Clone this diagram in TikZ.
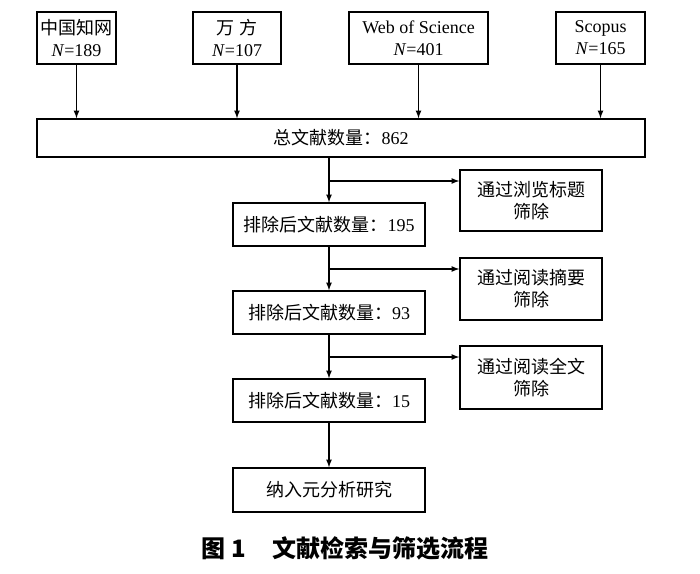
\documentclass[tikz,border=0pt]{standalone}
\usepackage{fontspec}
\setmainfont{Liberation Serif}
\newfontfamily\cjk{Noto Sans CJK SC}
\usetikzlibrary{positioning,arrows}
\tikzstyle{box} = [draw, line width=1.5pt, inner sep=0pt, align=center, font=\fontsize{18}{22}\selectfont]
\tikzstyle{arr} = [-latex, line width=1.6pt]
\tikzstyle{branch} = [coordinate]

\begin{document}
\begin{tikzpicture}[x=1pt,y=-1pt]
				%\draw[help lines,step=50] (0,0) grid (700,573);
				\useasboundingbox (0,0) rectangle (700,573);
				\node [box, minimum width=79, minimum height=52] (cnki) at (76.5,38) {{\cjk 中国知网}\\\textit{N}=189};
				\node [box, minimum width=88, minimum height=52] (wanfang) at (237,38) {{\cjk 万\ 方}\\\textit{N}=107};
				\node [box, minimum width=139, minimum height=52] (wos) at (418.5,38) {Web of Science\\\textit{N}=401};
				\node [box, minimum width=89, minimum height=52] (scopus) at (600.5,38) {Scopus\\\textit{N}=165};
				
				\node [box, minimum width=608, minimum height=38] (total) at (341,138) {{\cjk 总文献数量：}862};
				
				\node [box, minimum width=192, minimum height=43] (left1) at (329,224.5) {{\cjk 排除后文献数量：}195};
				\node [box, minimum width=192, minimum height=43] (left2) at (329,312.5) {{\cjk 排除后文献数量：}93};
				\node [box, minimum width=192, minimum height=43] (left3) at (329,400.5) {{\cjk 排除后文献数量：}15};
				\node [box, minimum width=192, minimum height=44] (final) at (329,490) {\cjk 纳入元分析研究};
				
				\node [box, minimum width=142, minimum height=61] (right1) at (531,200.5) {\cjk 通过浏览标题\\\cjk 筛除};
				\node [box, minimum width=142, minimum height=62] (right2) at (531,289) {\cjk 通过阅读摘要\\\cjk 筛除};
				\node [box, minimum width=142, minimum height=63] (right3) at (531,377.5) {\cjk 通过阅读全文\\\cjk 筛除};
				
				\node [branch] (split1) at (329,181) {};
				\node [branch] (split2) at (329,269) {};
				\node [branch] (split3) at (329,357) {};
				
				\draw [arr] (cnki.south) -- (cnki.south |- total.north);
				\draw [arr] (wanfang.south) -- (wanfang.south |- total.north);
				\draw [arr] (wos.south) -- (wos.south |- total.north);
				\draw [arr] (scopus.south) -- (scopus.south |- total.north);
				
				\draw [arr] (total.south -| left1.north) -- (left1.north);
				\draw [arr] (left1.south) -- (left2.north);
				\draw [arr] (left2.south) -- (left3.north);
				\draw [arr] (left3.south) -- (final.north);
				
				\draw [arr] (split1) -- (split1 -| right1.west);
				\draw [arr] (split2) -- (split2 -| right2.west);
				\draw [arr] (split3) -- (split3 -| right3.west);
				
				\node [font=\fontsize{24}{28}\selectfont\cjk\bfseries] (caption) at (345,548) {图\ 1\hspace{1.1em}文献检索与筛选流程};
			\end{tikzpicture}
\end{document}
